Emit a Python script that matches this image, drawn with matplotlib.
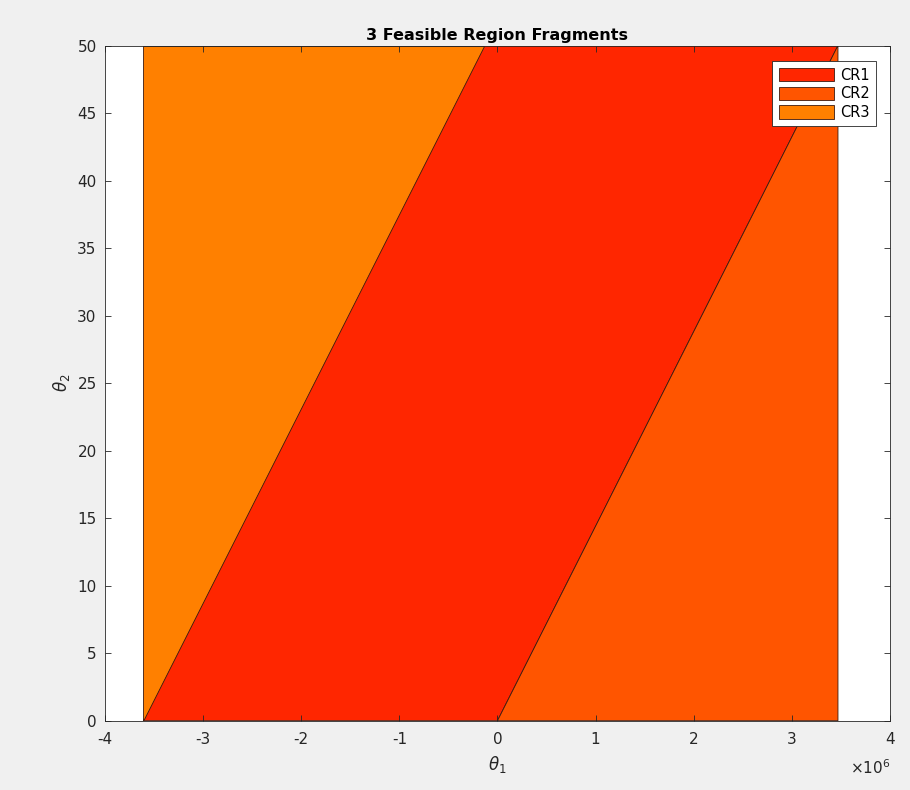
import matplotlib
matplotlib.use("Agg")
import matplotlib.pyplot as plt
from matplotlib.patches import Polygon

# Critical-region vertices (theta1 in units of 1e6, theta2)
cr_names = ["CR1", "CR2", "CR3"]
cr_colors = ["#FF2600", "#FF5500", "#FF8000"]
cr1_t1 = [-3.61, -0.14, 3.47, 0.00]
cr1_t2 = [0, 50, 50, 0]
cr2_t1 = [0.00, 3.47, 3.47]
cr2_t2 = [0, 50, 0]
cr3_t1 = [-3.61, -3.61, -0.14]
cr3_t2 = [0, 50, 50]

x_ticks = [-4, -3, -2, -1, 0, 1, 2, 3, 4]
y_ticks = [0, 5, 10, 15, 20, 25, 30, 35, 40, 45, 50]

fig = plt.figure(figsize=(9.1, 7.9), dpi=100, facecolor="#F0F0F0")
ax = fig.add_axes([0.1154, 0.0877, 0.8626, 0.8547])
ax.set_facecolor("white")

regions = [(cr1_t1, cr1_t2), (cr2_t1, cr2_t2), (cr3_t1, cr3_t2)]
for (t1, t2), name, col in zip(regions, cr_names, cr_colors):
    pts = [(a * 1e6, b) for a, b in zip(t1, t2)]
    ax.add_patch(Polygon(pts, closed=True, facecolor=col, edgecolor="#3a1a10",
                         linewidth=0.6, label=name))

ax.set_xlim(-4e6, 4e6)
ax.set_ylim(0, 50)
ax.set_xticks([v * 1e6 for v in x_ticks])
ax.set_xticklabels([str(v) for v in x_ticks])
ax.set_yticks(y_ticks)

ax.tick_params(direction="in", length=4, width=0.6, colors="#262626",
               labelsize=11, top=True, right=True, pad=8)
ax.tick_params(axis="y", pad=6)
for s in ax.spines.values():
    s.set_color("#262626")
    s.set_linewidth(0.6)

ax.set_title("3 Feasible Region Fragments", fontsize=11.5, fontweight="bold",
             color="black", pad=4)
ax.set_xlabel(r"$\theta_1$", fontsize=12, color="#262626", labelpad=5)
ax.set_ylabel(r"$\theta_2$", fontsize=12, color="#262626", labelpad=4)
ax.text(1.0, -0.055, r"$\times10^6$", transform=ax.transAxes, ha="right",
        va="top", fontsize=11, color="#262626")

leg = ax.legend(loc="upper right", bbox_to_anchor=(0.9825, 0.977), fontsize=10.5,
                frameon=True, fancybox=False, edgecolor="#262626",
                facecolor="white", framealpha=1.0,
                handlelength=3.8, handleheight=1.05, borderpad=0.45,
                labelspacing=0.25, handletextpad=0.4, borderaxespad=0.0)
leg.get_frame().set_linewidth(0.6)

fig.savefig("out.png", dpi=100, facecolor=fig.get_facecolor())
